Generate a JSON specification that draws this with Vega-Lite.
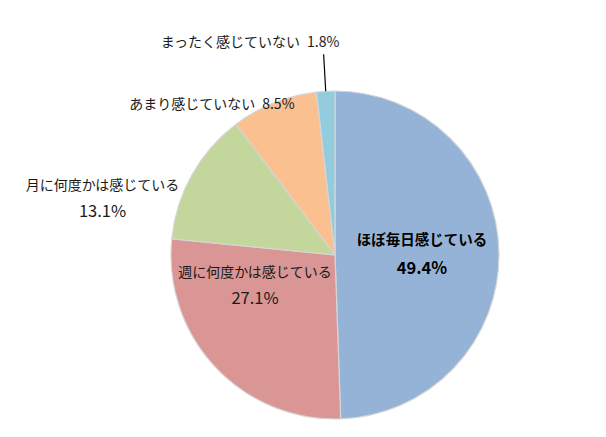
{
  "$schema": "https://vega.github.io/schema/vega-lite/v6.json",
  "width": 542,
  "height": 364,
  "padding": {"left": 64, "top": 73, "right": 0, "bottom": 0},
  "autosize": {"type": "none"},
  "background": "white",
  "config": {"view": {"stroke": null}, "text": {"font": "Noto Sans CJK JP", "fontSize": 14, "color": "#1a1a1a"}},
  "data": {
    "values": [
      {"category": "ほぼ毎日感じている", "value": 49.4},
      {"category": "週に何度かは感じている", "value": 27.1},
      {"category": "月に何度かは感じている", "value": 13.1},
      {"category": "あまり感じていない", "value": 8.5},
      {"category": "まったく感じていない", "value": 1.8}
    ]
  },
  "transform": [
    {"stack": "value", "groupby": [], "offset": "normalize", "sort": [{"field": "value", "order": "descending"}], "as": ["v0", "v1"]},
    {"calculate": "(datum.v0 + datum.v1) / 2", "as": "mid"},
    {"calculate": "format(datum.value, '.1f') + '%'", "as": "pct"},
    {"calculate": "datum.category + '\u2002' + datum.pct", "as": "label"}
  ],
  "layer": [
    {
      "mark": {"type": "arc", "outerRadius": 164, "stroke": "#d6d6d6", "strokeWidth": 1.2},
      "encoding": {
        "theta": {"field": "v0", "type": "quantitative", "stack": null, "scale": {"domain": [0, 1], "range": [0, 6.283185307179586], "zero": true, "nice": false}},
        "theta2": {"field": "v1"},
        "color": {
          "field": "category", "type": "nominal", "legend": null,
          "scale": {
            "domain": ["ほぼ毎日感じている", "週に何度かは感じている", "月に何度かは感じている", "あまり感じていない", "まったく感じていない"],
            "range": ["#95b3d7", "#d99694", "#c3d69b", "#fac090", "#93cddd"]
          }
        }
      }
    },
    {
      "transform": [{"filter": "datum.category === 'まったく感じていない'"}],
      "mark": {"type": "arc", "innerRadius": 164, "outerRadius": 201, "stroke": "#000000", "strokeWidth": 1.2, "fill": null},
      "encoding": {
        "theta": {"field": "mid", "type": "quantitative", "stack": null},
        "theta2": {"field": "mid"}
      }
    },
    {
      "transform": [{"filter": "datum.category === 'ほぼ毎日感じている'"}],
      "mark": {"type": "text", "radius": 90, "dx": -3, "dy": -12, "fontWeight": "bold", "color": "#000000", "fontSize": 14.5},
      "encoding": {"theta": {"field": "mid", "type": "quantitative", "stack": null}, "text": {"field": "category"}}
    },
    {
      "transform": [{"filter": "datum.category === 'ほぼ毎日感じている'"}],
      "mark": {"type": "text", "radius": 90, "dx": -3, "dy": 16, "fontWeight": "bold", "color": "#000000", "fontSize": 16.5},
      "encoding": {"theta": {"field": "mid", "type": "quantitative", "stack": null}, "text": {"field": "pct"}}
    },
    {
      "transform": [{"filter": "datum.category === '週に何度かは感じている'"}],
      "mark": {"type": "text", "radius": 100, "dx": -7, "dy": -50},
      "encoding": {"theta": {"field": "mid", "type": "quantitative", "stack": null}, "text": {"field": "category"}}
    },
    {
      "transform": [{"filter": "datum.category === '週に何度かは感じている'"}],
      "mark": {"type": "text", "radius": 100, "dx": -7, "dy": -24, "fontSize": 16.5},
      "encoding": {"theta": {"field": "mid", "type": "quantitative", "stack": null}, "text": {"field": "pct"}}
    },
    {
      "transform": [{"filter": "datum.category === '月に何度かは感じている'"}],
      "mark": {"type": "text", "radius": 200, "dx": -58, "dy": 29},
      "encoding": {"theta": {"field": "mid", "type": "quantitative", "stack": null}, "text": {"field": "category"}}
    },
    {
      "transform": [{"filter": "datum.category === '月に何度かは感じている'"}],
      "mark": {"type": "text", "radius": 200, "dx": -58, "dy": 55, "fontSize": 16.5},
      "encoding": {"theta": {"field": "mid", "type": "quantitative", "stack": null}, "text": {"field": "pct"}}
    },
    {
      "transform": [{"filter": "datum.category === 'あまり感じていない'"}],
      "mark": {"type": "text", "radius": 170, "dx": -60, "dy": 8},
      "encoding": {"theta": {"field": "mid", "type": "quantitative", "stack": null}, "text": {"field": "label", "type": "nominal"}}
    },
    {
      "transform": [{"filter": "datum.category === 'まったく感じていない'"}],
      "mark": {"type": "text", "radius": 212, "dx": -73, "dy": 0},
      "encoding": {"theta": {"field": "mid", "type": "quantitative", "stack": null}, "text": {"field": "label", "type": "nominal"}}
    }
  ],
  "resolve": {"scale": {"theta": "shared"}}
}
